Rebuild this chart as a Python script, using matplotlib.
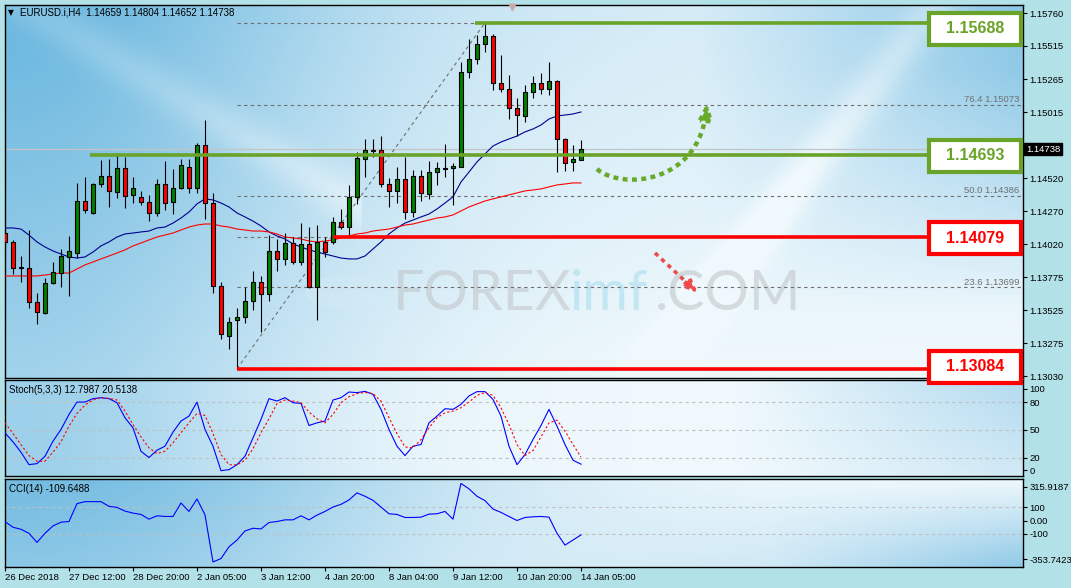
import numpy as np
import matplotlib
matplotlib.use('Agg')
import matplotlib.pyplot as plt
import matplotlib.transforms as mtransforms
from matplotlib.patches import Rectangle, FancyArrowPatch, ArrowStyle, Circle
from matplotlib.path import Path

plt.rcParams['font.family'] = ['Liberation Sans', 'DejaVu Sans']

# ---------------- data ----------------
symbol_title = "EURUSD.i,H4  1.14659 1.14804 1.14652 1.14738"

opens = [1.14106, 1.14039, 1.13843, 1.13843, 1.13587, 1.13504, 1.13730, 1.13805, 1.13926, 1.13956,
         1.14347, 1.14257, 1.14475, 1.14535, 1.14415, 1.14596, 1.14393, 1.14378, 1.14340, 1.14257,
         1.14475, 1.14340, 1.14445, 1.14603, 1.14445, 1.14769, 1.14332, 1.13707, 1.13331, 1.13451,
         1.13474, 1.13594, 1.13738, 1.13647, 1.13971, 1.13911, 1.14031, 1.13888, 1.14024, 1.13700,
         1.14039, 1.14039, 1.14189, 1.14151, 1.14378, 1.14663, 1.14723, 1.14731, 1.14475, 1.14423,
         1.14513, 1.14264, 1.14535, 1.14400, 1.14565, 1.14596, 1.14596, 1.14603, 1.15318, 1.15416,
         1.15529, 1.15589, 1.15235, 1.15190, 1.15047, 1.14987, 1.15168, 1.15235, 1.15190, 1.15251,
         1.14814, 1.14641, 1.14659]
highs = [1.14121, 1.14054, 1.13933, 1.14129, 1.13655, 1.13768, 1.13888, 1.13986, 1.14084, 1.14483,
         1.14528, 1.14483, 1.14656, 1.14663, 1.14709, 1.14678, 1.14528, 1.14423, 1.14393, 1.14513,
         1.14648, 1.14588, 1.14663, 1.14663, 1.14784, 1.14957, 1.14408, 1.13738, 1.13474, 1.13542,
         1.13700, 1.13820, 1.13783, 1.14091, 1.14061, 1.14106, 1.14076, 1.14181, 1.14151, 1.14166,
         1.14076, 1.14227, 1.14287, 1.14468, 1.14716, 1.14814, 1.14814, 1.14836, 1.14520, 1.14603,
         1.14678, 1.14580, 1.14580, 1.14648, 1.14641, 1.14776, 1.14633, 1.15393, 1.15567, 1.15597,
         1.15688, 1.15604, 1.15446, 1.15296, 1.15122, 1.15220, 1.15288, 1.15311, 1.15393, 1.15258,
         1.14821, 1.14769, 1.14804]
lows = [1.13979, 1.13798, 1.13738, 1.13542, 1.13421, 1.13500, 1.13725, 1.13700, 1.13632, 1.13918,
        1.14257, 1.14249, 1.14453, 1.14302, 1.14370, 1.14294, 1.14332, 1.14317, 1.14196, 1.14234,
        1.14279, 1.14249, 1.14438, 1.14408, 1.14408, 1.14212, 1.13655, 1.13309, 1.13233, 1.13084,
        1.13429, 1.13527, 1.13361, 1.13594, 1.13820, 1.13866, 1.13873, 1.13866, 1.13695, 1.13451,
        1.13926, 1.14024, 1.14136, 1.14084, 1.14325, 1.14528, 1.14678, 1.14453, 1.14302, 1.14332,
        1.14212, 1.14227, 1.14347, 1.14363, 1.14468, 1.14528, 1.14317, 1.14600, 1.15273, 1.15378,
        1.15469, 1.15183, 1.15168, 1.14964, 1.14836, 1.14942, 1.15122, 1.15153, 1.15145, 1.14565,
        1.14573, 1.14573, 1.14652]
closes = [1.14039, 1.13843, 1.13850, 1.13587, 1.13512, 1.13730, 1.13813, 1.13933, 1.13971, 1.14347,
          1.14279, 1.14475, 1.14535, 1.14423, 1.14596, 1.14385, 1.14445, 1.14340, 1.14257, 1.14475,
          1.14332, 1.14445, 1.14618, 1.14445, 1.14769, 1.14332, 1.13707, 1.13346, 1.13436, 1.13474,
          1.13594, 1.13738, 1.13647, 1.13971, 1.13911, 1.14031, 1.13888, 1.14024, 1.13700, 1.14039,
          1.13963, 1.14189, 1.14151, 1.14378, 1.14671, 1.14731, 1.14730, 1.14475, 1.14423, 1.14513,
          1.14264, 1.14535, 1.14408, 1.14565, 1.14596, 1.14590, 1.14611, 1.15318, 1.15416, 1.15529,
          1.15589, 1.15235, 1.15190, 1.15047, 1.14995, 1.15168, 1.15235, 1.15190, 1.15251, 1.14814,
          1.14633, 1.14663, 1.14738]

ma_fast = [1.14144, 1.14144, 1.14136, 1.14091, 1.14039, 1.14001, 1.13971, 1.13948, 1.13926, 1.13918,
           1.13926, 1.13963, 1.14009, 1.14039, 1.14076, 1.14099, 1.14106, 1.14114, 1.14121, 1.14144,
           1.14151, 1.14181, 1.14219, 1.14264, 1.14325, 1.14363, 1.14355, 1.14332, 1.14302, 1.14257,
           1.14227, 1.14196, 1.14159, 1.14114, 1.14084, 1.14061, 1.14024, 1.14001, 1.13979, 1.13963,
           1.13948, 1.13933, 1.13918, 1.13911, 1.13911, 1.13933, 1.13986, 1.14039, 1.14099, 1.14144,
           1.14181, 1.14204, 1.14227, 1.14249, 1.14287, 1.14332, 1.14378, 1.14490, 1.14565, 1.14641,
           1.14701, 1.14761, 1.14791, 1.14814, 1.14836, 1.14867, 1.14889, 1.14919, 1.14964, 1.14987,
           1.14994, 1.15002, 1.15017]
ma_slow = [1.13783, 1.13783, 1.13783, 1.13783, 1.13783, 1.13790, 1.13798, 1.13805, 1.13805, 1.13835,
           1.13866, 1.13888, 1.13911, 1.13933, 1.13956, 1.13979, 1.14009, 1.14031, 1.14054, 1.14076,
           1.14091, 1.14106, 1.14129, 1.14151, 1.14166, 1.14174, 1.14174, 1.14159, 1.14151, 1.14136,
           1.14129, 1.14121, 1.14121, 1.14114, 1.14099, 1.14076, 1.14069, 1.14061, 1.14046, 1.14039,
           1.14046, 1.14054, 1.14069, 1.14084, 1.14099, 1.14106, 1.14121, 1.14129, 1.14136, 1.14151,
           1.14166, 1.14174, 1.14189, 1.14204, 1.14219, 1.14227, 1.14242, 1.14272, 1.14302, 1.14325,
           1.14347, 1.14363, 1.14378, 1.14393, 1.14408, 1.14423, 1.14430, 1.14438, 1.14453, 1.14468,
           1.14475, 1.14483, 1.14483]

stoch_k = [46.8, 37.0, 25.8, 12.3, 13.4, 21.4, 37.7, 50.4, 66.7, 80.1,
           80.1, 83.8, 84.8, 83.8, 79.4, 63.1, 52.2, 26.8, 20.0, 27.9,
           32.3, 47.5, 59.5, 64.9, 80.1, 50.4, 32.3, 5.8, 6.9, 12.3,
           21.4, 41.3, 61.3, 83.8, 81.2, 84.8, 79.4, 78.7, 54.7, 57.6,
           59.5, 82.3, 84.8, 91.0, 90.3, 91.7, 88.5, 72.2, 50.4, 32.3,
           22.1, 32.3, 34.1, 57.6, 64.9, 72.9, 72.2, 77.6, 86.7, 91.4,
           91.4, 83.0, 64.9, 32.3, 12.3, 23.2, 39.5, 54.7, 72.2, 54.0,
           34.1, 17.1, 12.8]
stoch_d = [57.6, 46.0, 34.1, 22.1, 16.0, 16.0, 25.8, 37.0, 54.0, 67.8,
           76.9, 82.3, 84.8, 84.1, 82.3, 70.3, 55.8, 42.4, 30.5, 24.3,
           26.8, 35.9, 46.8, 57.6, 67.8, 65.6, 46.0, 23.2, 12.3, 12.0,
           17.1, 29.4, 46.8, 62.0, 78.3, 82.3, 81.2, 79.4, 69.3, 62.0,
           57.6, 66.7, 79.4, 85.9, 89.2, 90.6, 89.2, 81.2, 63.1, 46.0,
           31.5, 30.5, 39.5, 52.2, 63.1, 68.5, 70.3, 74.0, 80.1, 87.4,
           90.3, 87.4, 74.0, 55.8, 34.1, 22.1, 27.5, 42.4, 57.6, 60.5,
           48.6, 34.1, 20.5]
cci = [-7.7, -51.3, -66.7, -97.4, -166.6, -97.4, -41.0, -12.8, -7.7, 128.2,
       143.6, 143.6, 143.6, 107.7, 100.0, 71.8, 56.4, 46.2, 10.3, 35.9,
       30.8, 30.8, 133.3, 69.2, 164.1, 43.6, -315.3, -289.7, -200.0, -148.7,
       -79.5, -59.0, -64.1, -15.4, -7.7, 5.1, 5.1, 35.9, 5.1, 41.0,
       69.2, 102.6, 123.1, 156.4, 210.3, 184.6, 153.8, 102.6, 51.3, 46.2,
       23.1, 23.1, 25.6, 48.7, 51.3, 69.2, 10.3, 282.1, 241.0, 184.6,
       151.3, 87.2, 61.5, 30.8, 0.0, 23.1, 28.2, 30.8, 25.6, -97.4,
       -187.2, -148.7, -109.6]

date_labels = ["26 Dec 2018", "27 Dec 12:00", "28 Dec 20:00", "2 Jan 05:00", "3 Jan 12:00",
               "4 Jan 20:00", "8 Jan 04:00", "9 Jan 12:00", "10 Jan 20:00", "14 Jan 05:00"]
date_idx = [0, 8, 16, 24, 32, 40, 48, 56, 64, 72]

price_ticks = [1.15760, 1.15515, 1.15265, 1.15015, 1.14770, 1.14520,
               1.14270, 1.14020, 1.13775, 1.13525, 1.13275, 1.13030]
last_price = 1.14738

key_levels = [1.15688, 1.14693, 1.14079, 1.13084]
key_colors = ['#6aa329', '#6aa329', '#ff0000', '#ff0000']
key_start = [58.75, 10.6, 41.0, 29.0]           # bar index where each line begins
key_box_mid = [1.15643, 1.14689, 1.14065, 1.13101]

fib_values = [1.13084, 1.13699, 1.14079, 1.14386, 1.14693, 1.15073, 1.15688]
fib_labels = {1.15073: "76.4 1.15073", 1.14386: "50.0 1.14386", 1.13699: "23.6 1.13699"}

# ---------------- layout ----------------
W, H = 1071, 588
fig = plt.figure(figsize=(W / 100, H / 100), dpi=100, facecolor='#b3e1e8')


def px_axes(x0, y0, x1, y1):
    return fig.add_axes([x0 / W, 1 - y1 / H, (x1 - x0) / W, (y1 - y0) / H])


ax = px_axes(4.5, 5, 1023, 378)
ax_st = px_axes(4.5, 380, 1023, 476)
ax_cci = px_axes(4.5, 479, 1023, 567)

XL = (-0.06, 127.25)

light = np.array([0.94, 0.975, 0.99])
blue = np.array([0.40, 0.71, 0.87])


def wallpaper(a, w):
    w = np.clip(w, 0, 1)[..., None]
    img = light * (1 - w) + blue * w
    a.imshow(img, extent=(0, 1, 0, 1), transform=a.transAxes, aspect='auto',
             zorder=0, interpolation='bilinear')


gx, gy = np.meshgrid(np.linspace(0, 1, 400), np.linspace(0, 1, 150))
# main panel
wm = 0.8 * np.exp(-(gx / 0.33) ** 2) * (1 - 0.3 * gy) + 0.18 * (1 - gy)
wm += 0.55 * np.clip((gx - 0.68) / 0.32, 0, 1) * np.clip(1.25 - 1.5 * gy, 0, 1)
diag = gy * 373 - (gx * 1018 - 20) * 0.6
wm -= 0.18 * np.exp(-(diag / 25) ** 2) * (gx < 0.35)
streak = gy * 373 + (gx * 1018 - 930) * 1.3
wm -= 0.22 * np.exp(-(streak / 35) ** 2) * (gx > 0.6)
wallpaper(ax, wm)
# stochastic panel
ws = 0.6 * np.exp(-(gx / 0.28) ** 2) + 0.45 * np.clip((gx - 0.72) / 0.28, 0, 1) * (1 - 0.5 * gy)
wallpaper(ax_st, ws)
# cci panel
wc = 0.9 * np.exp(-(gx / 0.42) ** 2) * (1 - 0.2 * gy) + 0.5 * np.clip((gx - 0.75) / 0.25, 0, 1) * gy
wc += 0.2 * np.clip((gx - 0.45) / 0.3, 0, 1) * gy
wallpaper(ax_cci, wc)

# ---------------- main price chart ----------------
idx = np.arange(len(opens))
o = np.array(opens)
c = np.array(closes)
up = c >= o
body_lo = np.minimum(o, c)
body_h = np.maximum(np.abs(c - o), 0.00002)

ax.plot(idx, ma_fast, color='#000090', lw=0.8, zorder=3)
ax.plot(idx, ma_slow, color='#ff0000', lw=0.8, zorder=3)
ax.vlines(idx, lows, highs, color='black', lw=0.8, zorder=4)
ax.bar(idx, body_h, bottom=body_lo, width=0.62,
       color=np.where(up, '#008000', '#ff0000'), edgecolor='black', linewidth=0.8, zorder=5)

# last price line
ax.axhline(last_price, color='#c4c4c4', lw=0.9, zorder=2)

# fibonacci retracement
for v in fib_values:
    ax.hlines(v, 29, XL[1], color='#6e6e6e', lw=0.8, linestyles=(0, (3, 3)), zorder=2)
    if v in fib_labels:
        ax.text(126.8, v + 0.00004, fib_labels[v], ha='right', va='bottom',
                fontsize=6.8, color='#707070', zorder=2)
ax.plot([29, 60], [fib_values[0], fib_values[-1]], color='#6e6e6e', lw=0.8,
        linestyle=(0, (3, 3)), zorder=2)

# watermark
wm_tr = ax.transAxes
ax.add_patch(Circle(((352 - 4.5) / 1018.5, (378 - 292) / 373), 0.045, transform=wm_tr,
                    color='#d4ecf5', alpha=0.4, zorder=1))
for txt, x0, col in (("FOREX", 393, '#bfc3c6'), ("imf", 570, '#a6dbee'), (".COM", 655, '#bfc3c6')):
    ax.text((x0 - 4.5) / 1018.5, (378 - 294) / 373, txt, transform=wm_tr, fontsize=40,
            family='Lato', fontweight='normal', color=col, alpha=0.55,
            ha='left', va='center', zorder=1)

# key horizontal levels
for lv, col, x0 in zip(key_levels, key_colors, key_start):
    ax.hlines(lv, x0, 115.3, color=col, lw=2.6, zorder=6)

# curved green arrow and dotted red arrow
green_path = Path([(74.0, 1.14588), (76.9, 1.14430), (86.9, 1.14468), (87.75, 1.15085)],
                  [Path.MOVETO, Path.CURVE4, Path.CURVE4, Path.CURVE4])
ax.add_patch(FancyArrowPatch(path=green_path,
                             arrowstyle=ArrowStyle('-|>', head_length=0.9, head_width=0.4),
                             mutation_scale=10, color='#6aaa2a', lw=3.2,
                             linestyle=(0, (1.1, 1.0)), capstyle='butt', zorder=7))
ax.add_patch(FancyArrowPatch((81.25, 1.13956), (86.6, 1.13655),
                             arrowstyle=ArrowStyle('-|>', head_length=0.8, head_width=0.35),
                             mutation_scale=10, color='#ee4a4a', lw=2.6, shrinkA=0, shrinkB=0,
                             linestyle=(0, (1.2, 1.2)), capstyle='butt', zorder=7))

ax.set_xlim(*XL)
ax.set_ylim(1.13015, 1.15822)
ax.set_xticks([])
ax.yaxis.tick_right()
ax.set_yticks(price_ticks)
# the 1.14770 label sits under the current-price marker
ax.set_yticklabels(["" if v == 1.14770 else f"{v:.5f}" for v in price_ticks])

# small shift marker at the top
ax.scatter([63.4], [1.15810], marker='v', s=22, color='#c9a9a9', zorder=8, clip_on=False)

# title
ax.text(0.0035, 0.979, "\u25bc", transform=ax.transAxes, fontsize=5.5, va='center',
        family='DejaVu Sans')
ax.text(0.0148, 0.979, symbol_title, transform=ax.transAxes, fontsize=7, va='center')

# boxes with level values (drawn on the figure so they can overlap panel borders)
btr = mtransforms.blended_transform_factory(fig.transFigure, ax.transData)
box_h = 32 * 0.00007527
for lv, col, mid in zip(key_levels, key_colors, key_box_mid):
    fig.add_artist(Rectangle((929 / W, mid - box_h / 2), 92 / W, box_h, transform=btr,
                             facecolor='white', edgecolor=col, lw=3.0, zorder=5))
    fig.text(975 / W, mid, f"{lv:.5f}", transform=btr, ha='center', va='center',
             fontsize=11.5, fontweight='bold', color=col, zorder=6)

# current price label
fig.text(1026 / W, last_price, f"{last_price:.5f}", transform=btr, ha='left', va='center',
         fontsize=6.8, color='white', zorder=6,
         bbox=dict(boxstyle='square,pad=0.18', fc='black', ec='black'))

# ---------------- stochastic ----------------
ax_st.plot(idx, stoch_k, color='#0000ff', lw=0.8, zorder=3)
ax_st.plot(idx, stoch_d, color='#ff0000', lw=0.8, linestyle=(0, (2, 2)), zorder=3)
for lv in (20, 50, 80):
    ax_st.axhline(lv, color='#c0c0c0', lw=0.8, linestyle=(0, (3, 3)), zorder=2)
ax_st.set_xlim(*XL)
ax_st.set_ylim(0, 104)
ax_st.set_xticks([])
ax_st.yaxis.tick_right()
ax_st.set_yticks([94.5, 80, 50, 20, 6.3])
ax_st.set_yticklabels(['100', '80', '50', '20', '0'])
ax_st.text(0.004, 0.9, "Stoch(5,3,3) 12.7987 20.5138", transform=ax_st.transAxes,
           fontsize=7, va='center')

# ---------------- CCI ----------------
ax_cci.plot(idx, cci, color='#0000ff', lw=0.8, zorder=3)
for lv in (100, -100):
    ax_cci.axhline(lv, color='#c0c0c0', lw=0.8, linestyle=(0, (3, 3)), zorder=2)
ax_cci.set_xlim(*XL)
ax_cci.set_ylim(-353.7423, 315.9187)
ax_cci.yaxis.tick_right()
ax_cci.set_yticks([257.5, 100, 0, -100, -295.0])
ax_cci.set_yticklabels(['315.9187', '100', '0.00', '-100', '-353.7423'])
ax_cci.set_xticks(date_idx)
ax_cci.set_xticklabels(date_labels, ha='left')
ax_cci.text(0.004, 0.89, "CCI(14) -109.6488", transform=ax_cci.transAxes,
            fontsize=7, va='center')

for a in (ax, ax_st, ax_cci):
    for s in a.spines.values():
        s.set_color('black')
        s.set_linewidth(1.0)
    a.tick_params(axis='y', length=3, width=0.8, labelsize=6.8, pad=1.5, colors='black')
    a.tick_params(axis='x', length=3, width=0.8, labelsize=6.8, pad=1.5, colors='black')

fig.savefig('out.png', dpi=100, facecolor=fig.get_facecolor())
